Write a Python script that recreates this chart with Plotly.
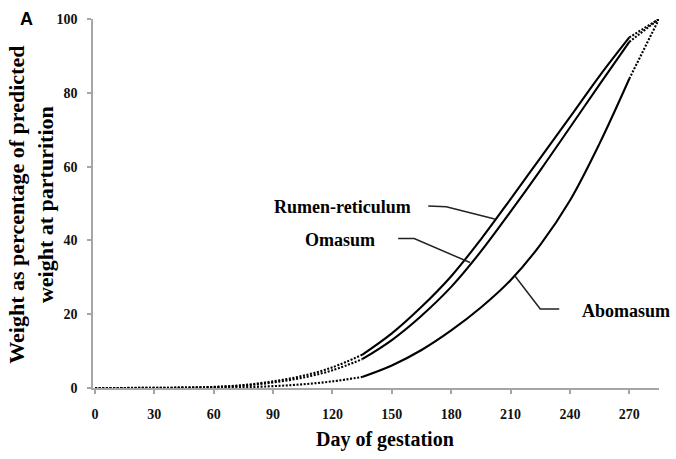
import plotly.graph_objects as go

# ---- data ----
days = [0, 15, 30, 45, 60, 75, 90, 105, 120, 135, 150, 165, 180, 195, 210, 225, 240, 255, 270, 285]
rumen_reticulum = [0, 0.02, 0.05, 0.12, 0.3, 0.8, 1.8, 3.3, 5.6, 9.0, 14.8, 22.0, 30.3, 40.3, 51.2, 62.3, 73.4, 84.6, 95.0, 100]
omasum = [0, 0.01, 0.04, 0.1, 0.25, 0.65, 1.5, 2.8, 4.8, 7.8, 13.0, 19.6, 27.4, 37.0, 47.8, 59.0, 70.6, 82.3, 93.8, 100]
abomasum = [0, 0.005, 0.01, 0.03, 0.08, 0.2, 0.5, 1.0, 1.8, 3.0, 6.1, 10.3, 15.6, 21.8, 29.2, 38.8, 50.8, 66.3, 83.8, 100]
observed_start, observed_end = 135, 270
x_ticks = [0, 30, 60, 90, 120, 150, 180, 210, 240, 270]
y_ticks = [0, 20, 40, 60, 80, 100]

SERIF = "Liberation Serif"
fig = go.Figure()


def add_series(vals):
    pre = [(d, v) for d, v in zip(days, vals) if d <= observed_start]
    mid = [(d, v) for d, v in zip(days, vals) if observed_start <= d <= observed_end]
    post = [(d, v) for d, v in zip(days, vals) if d >= observed_end]
    for seg, dash in ((pre, "2px,1.6px"), (post, "2px,1.6px"), (mid, "solid")):
        fig.add_trace(go.Scatter(
            x=[p[0] for p in seg], y=[p[1] for p in seg], mode="lines",
            line=dict(color="black", width=2.1, dash=dash, shape="spline", smoothing=1.0),
            showlegend=False, hoverinfo="skip"))


for s in (rumen_reticulum, omasum, abomasum):
    add_series(s)

# leader lines
leaders = [
    [(168.4, 49.3), (177.5, 49.1), (202.0, 45.8)],
    [(153.2, 40.5), (161.3, 40.5), (189.5, 34.0)],
    [(234.6, 21.4), (225.0, 21.4), (212.3, 30.3)],
]
for pts in leaders:
    path = "M " + " L ".join(f"{x},{y}" for x, y in pts)
    fig.add_shape(type="path", path=path, xref="x", yref="y",
                  line=dict(color="#222222", width=1.5))

lab_font = dict(family=SERIF, size=18, color="black", weight="bold")
fig.add_annotation(x=160.5, y=49.1, text="Rumen-reticulum", showarrow=False,
                   xanchor="right", yanchor="middle", font=lab_font)
fig.add_annotation(x=142.6, y=40.0, text="Omasum", showarrow=False,
                   xanchor="right", yanchor="middle", font=lab_font)
fig.add_annotation(x=245.2, y=20.9, text="Abomasum", showarrow=False,
                   xanchor="left", yanchor="middle", font=lab_font)

# axis titles
fig.add_annotation(xref="paper", yref="paper", x=0.516, y=-0.1396,
                   text="Day of gestation", showarrow=False,
                   xanchor="center", yanchor="middle",
                   font=dict(family=SERIF, size=20, color="black", weight="bold"))
fig.add_annotation(xref="paper", yref="paper", x=-0.1096, y=0.4966,
                   text="Weight as percentage of predicted<br>weight at parturition",
                   showarrow=False, textangle=-90, xanchor="center", yanchor="middle",
                   font=dict(family=SERIF, size=22, color="black", weight="bold"))
fig.add_annotation(xref="paper", yref="paper", x=-0.1167, y=1.0, text="A",
                   showarrow=False, xanchor="center", yanchor="middle",
                   font=dict(family="Liberation Sans", size=18, color="black", weight="bold"))

axis_common = dict(showgrid=False, zeroline=False, showline=True, linecolor="#a6a6a6",
                   linewidth=1.5, ticks="outside", ticklen=4, tickcolor="#a6a6a6",
                   tickwidth=1.5,
                   tickfont=dict(family=SERIF, size=14, color="#111111", weight="bold"))
fig.update_xaxes(range=[-1, 285], tickvals=x_ticks, ticktext=[str(t) for t in x_ticks],
                 ticklabelstandoff=8, **axis_common)
fig.update_yaxes(range=[0, 100], tickvals=y_ticks, ticktext=[str(t) for t in y_ticks],
                 ticklabelstandoff=7, **axis_common)

fig.update_layout(width=676, height=459, margin=dict(l=93, r=17, t=15, b=71),
                  plot_bgcolor="white", paper_bgcolor="white", showlegend=False)

fig.write_html("out.html")
